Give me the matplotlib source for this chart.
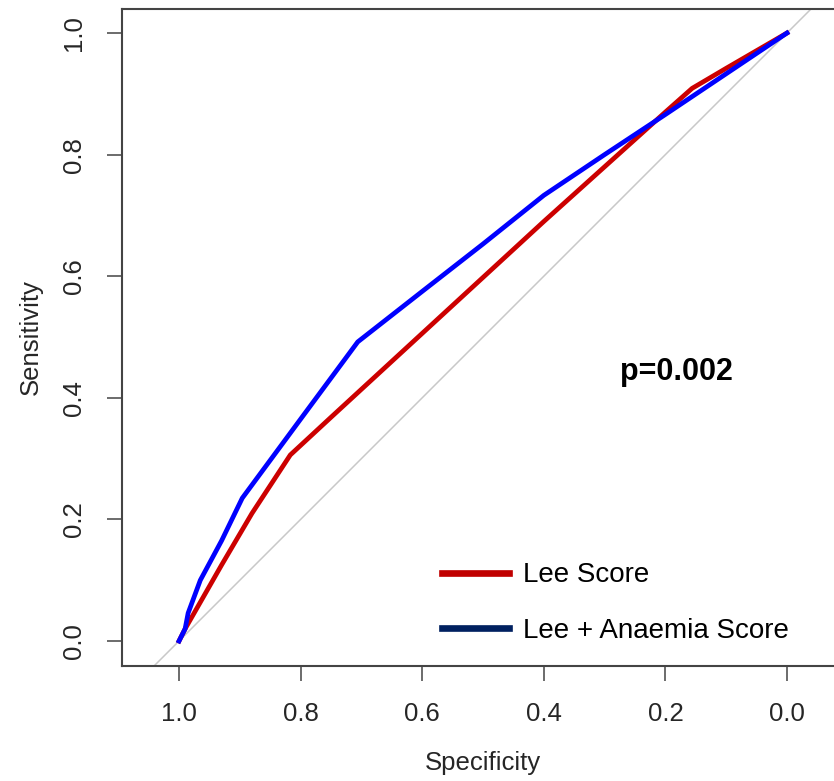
import matplotlib
matplotlib.use("Agg")
import matplotlib.pyplot as plt
from matplotlib.lines import Line2D

plt.rcParams['font.family'] = ['Liberation Sans', 'DejaVu Sans']

# ROC data (specificity, sensitivity)
lee_spec = [1.0, 0.99, 0.97, 0.93, 0.88, 0.817, 0.75, 0.70, 0.60, 0.50, 0.40, 0.30, 0.20, 0.156, 0.10, 0.0]
lee_sens = [0.0, 0.02, 0.055, 0.125, 0.21, 0.306, 0.368, 0.414, 0.506, 0.598, 0.69, 0.78, 0.87, 0.909, 0.942, 1.0]

anaemia_spec = [1.0, 0.99, 0.985, 0.965, 0.93, 0.896, 0.80, 0.706, 0.60, 0.50, 0.40, 0.30, 0.20, 0.10, 0.0]
anaemia_sens = [0.0, 0.02, 0.046, 0.10, 0.165, 0.235, 0.365, 0.492, 0.575, 0.653, 0.733, 0.80, 0.866, 0.933, 1.0]

ticks = [1.0, 0.8, 0.6, 0.4, 0.2, 0.0]
tick_labels = ["1.0", "0.8", "0.6", "0.4", "0.2", "0.0"]
series_names = ["Lee Score", "Lee + Anaemia Score"]
p_text = "p=0.002"

W, H = 834, 781
fig = plt.figure(figsize=(W / 100, H / 100), dpi=100)
ax = fig.add_axes([122 / W, (H - 666) / H, 722 / W, 657 / H])

ax.set_xlim(1.0938, -0.0938)
ax.set_ylim(-0.0411, 1.0395)

# diagonal reference
ax.plot([1.2, -0.2], [-0.2, 1.2], color='#C8C8C8', lw=1.1, zorder=1)

ax.plot(lee_spec, lee_sens, color='#CC0000', lw=3.4, zorder=2, solid_joinstyle='round')
ax.plot(anaemia_spec, anaemia_sens, color='#0000FF', lw=3.4, zorder=3, solid_joinstyle='round')

ax.text(0.181, 0.442, p_text, ha='center', va='center', fontsize=22, fontweight='bold', color='black')

ax.set_xticks(ticks)
ax.set_xticklabels(tick_labels)
ax.set_yticks(ticks)
ax.set_yticklabels(tick_labels, rotation=90, va='center')

text_col = '#262626'
ax.tick_params(axis='both', length=11, width=1.1, color='#444444', pad=15,
               labelsize=18.5, labelcolor=text_col)

for s in ax.spines.values():
    s.set_color('#444444')
    s.set_linewidth(1.5)

ax.set_xlabel("Specificity", fontsize=18.5, color=text_col, labelpad=18)
ax.set_ylabel("Sensitivity", fontsize=18.5, color=text_col, labelpad=14)

handles = [Line2D([], [], color='#C00000', lw=4.8),
           Line2D([], [], color='#002060', lw=4.8)]
leg = ax.legend(handles, series_names, loc='upper left',
                bbox_to_anchor=(423 / W, (H - 543) / H), bbox_transform=fig.transFigure,
                frameon=False, fontsize=20, handlelength=2.4, handletextpad=0.5,
                labelspacing=1.05, borderpad=0.2)

fig.savefig("out.png", dpi=100)
